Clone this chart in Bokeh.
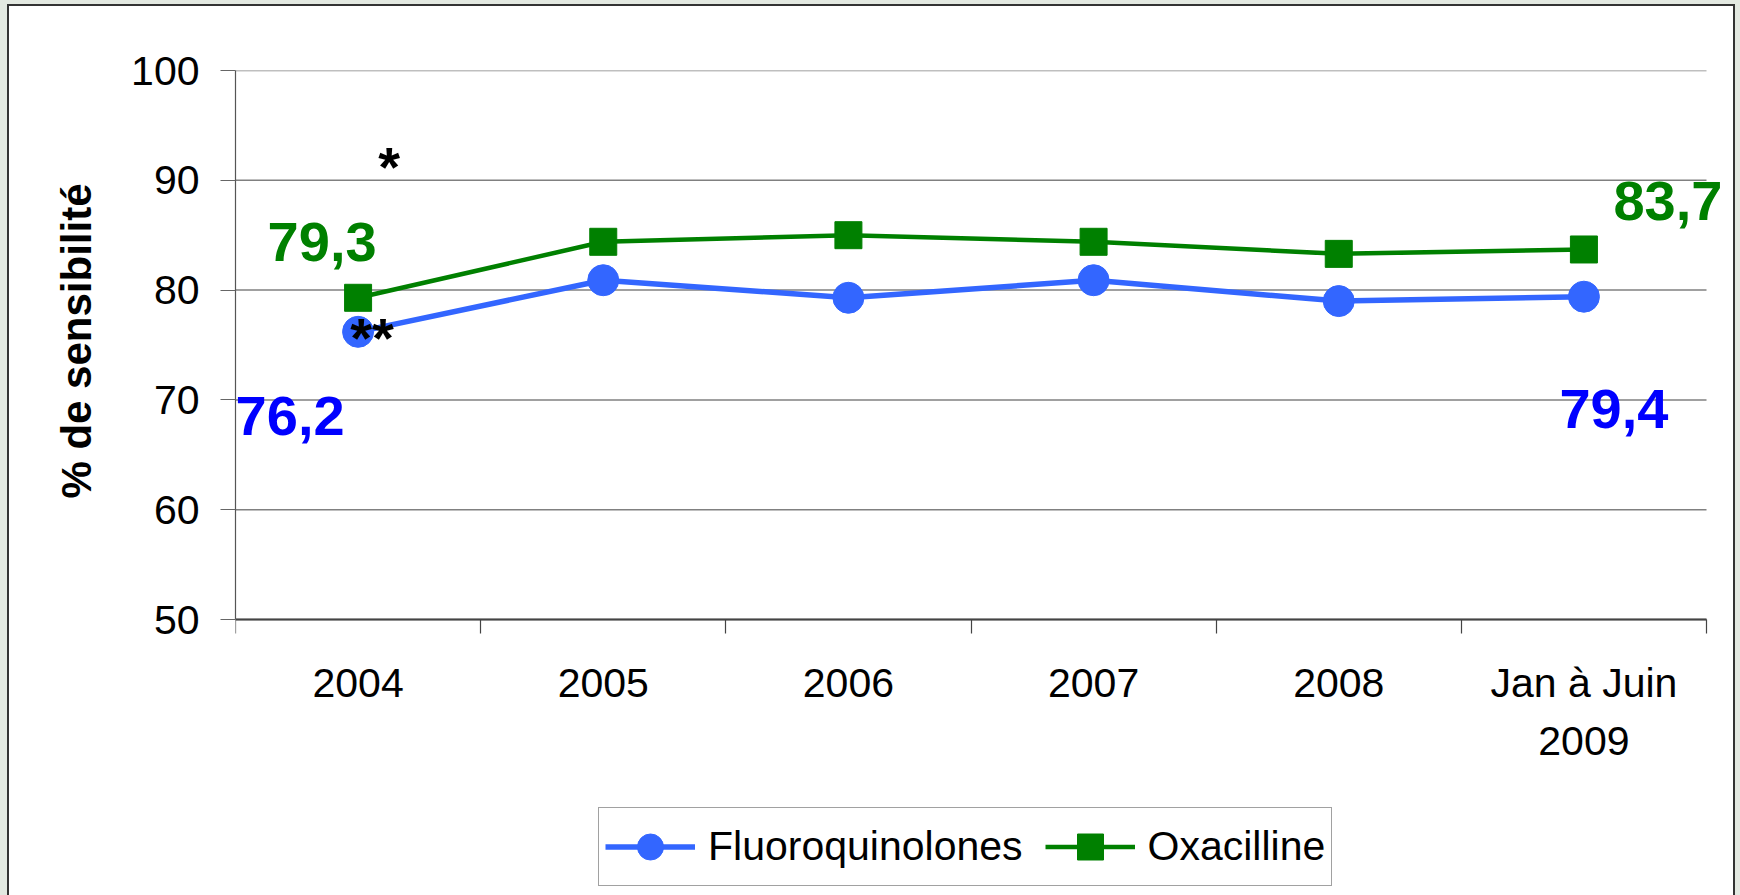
from bokeh.plotting import figure
from bokeh.models import Range1d, FixedTicker, Legend, LegendItem, ColumnDataSource, Title
from bokeh.core.properties import value
from bokeh.embed import file_html
from bokeh.resources import INLINE

# ---- data ----
categories = ["2004", "2005", "2006", "2007", "2008", "Jan à Juin\n2009"]
fluoroquinolones = [76.2, 80.9, 79.3, 80.9, 79.0, 79.4]
oxacilline = [79.3, 84.4, 85.0, 84.4, 83.3, 83.7]
y_ticks = [50, 60, 70, 80, 90, 100]
y_label = "% de sensibilité"
series_names = ["Fluoroquinolones", "Oxacilline"]

# value labels: (series, category index)
label_series = ["oxa", "fluoro", "oxa", "fluoro"]
label_index = [0, 0, 5, 5]
# notes: (text, series, category index)
note_text = ["*", "**"]
note_series = ["oxa", "fluoro"]
note_index = [0, 0]

# ---- styles ----
FONT = "Liberation Sans"
BLUE = "#3366FF"
BLUE_TXT = "#0000FF"
GREEN = "#008000"
label_dx = [-36, -68, 84, 30]
label_dy = [-56, 84, -48, 112]
note_dx = [31, 14]
note_dy = [-131, 6]

series = {"oxa": oxacilline, "fluoro": fluoroquinolones}
n = len(categories)
xs = [i + 0.5 for i in range(n)]

W, H = 1740, 895
FL, FR, FT, FB = 235, 1730, 70, 890      # frame edges (px)
AXIS_BOTTOM = 619                          # pixel row of the lowest y tick
X_LAST = 1706                              # pixel column of the last category boundary
x_end = n * (FR - FL) / (X_LAST - FL)
px_per_unit = (AXIS_BOTTOM - FT) / (y_ticks[-1] - y_ticks[0])
y_start = y_ticks[0] - (FB - AXIS_BOTTOM) / px_per_unit

p = figure(width=W, height=H, output_backend="svg", toolbar_location=None,
           x_range=Range1d(0, x_end), y_range=Range1d(y_start, y_ticks[-1]),
           min_border_left=FL, min_border_right=W - FR, min_border_top=FT,
           min_border_bottom=H - FB)
p.styles = {"background": (
    "linear-gradient(#333,#333) 7px 4px/1728px 2px no-repeat,"
    "linear-gradient(#333,#333) 7px 4px/2px 900px no-repeat,"
    "linear-gradient(#333,#333) 1733px 4px/2px 900px no-repeat,"
    "linear-gradient(#fff,#fff) 7px 4px/1728px 900px no-repeat,"
    "#e3e9e1")}
p.outline_line_color = None
p.background_fill_color = "white"
p.border_fill_alpha = 0

# y axis
p.yaxis.ticker = FixedTicker(ticks=y_ticks)
p.yaxis.bounds = (y_ticks[0], y_ticks[-1])
p.yaxis.axis_line_color = "#555555"
p.yaxis.axis_line_width = 1.2
p.yaxis.major_tick_out = 15
p.yaxis.major_tick_in = 0
p.yaxis.major_tick_line_color = "#666666"
p.yaxis.major_tick_line_width = 1.2
p.yaxis.minor_tick_line_color = None
p.yaxis.major_label_text_font = FONT
p.yaxis.major_label_text_font_size = "41px"
p.yaxis.major_label_text_color = "black"
p.yaxis.major_label_standoff = 21

# y axis title, centred on the 50-100 span (not on the whole frame)
p.add_layout(Title(text=y_label, align="right", offset=113, vertical_align="bottom",
                   standoff=57, text_font=FONT, text_font_style="bold",
                   text_font_size="42px", text_color="black"), "left")

# x axis at y = 50: labels at centres, ticks at boundaries
p.xaxis.fixed_location = y_ticks[0]
p.xaxis.ticker = FixedTicker(ticks=xs, minor_ticks=list(range(n + 1)))
p.xaxis.bounds = (0, n)
p.xaxis.major_label_overrides = {x: c for x, c in zip(xs, categories)}
p.xaxis.major_tick_out = 0
p.xaxis.major_tick_in = 0
p.xaxis.minor_tick_out = 14
p.xaxis.minor_tick_in = 0
p.xaxis.minor_tick_line_color = "#444444"
p.xaxis.minor_tick_line_width = 1.2
p.xaxis.axis_line_color = "#444444"
p.xaxis.axis_line_width = 2
p.xaxis.major_label_text_font = FONT
p.xaxis.major_label_text_font_size = "41px"
p.xaxis.major_label_text_color = "black"
p.xaxis.major_label_text_line_height = 1.27
p.xaxis.major_label_standoff = 26

p.xgrid.visible = False
p.ygrid.visible = False
# horizontal gridlines, bounded by the first and last category boundaries
p.segment(x0=[0] * len(y_ticks), x1=[n] * len(y_ticks), y0=y_ticks, y1=y_ticks,
          line_color="#808080", line_width=1.5)

# series
l1 = p.line(xs, fluoroquinolones, line_width=5.5, line_color=BLUE)
s1 = p.scatter(xs, fluoroquinolones, marker="circle", size=31, fill_color=BLUE, line_color=BLUE)
l2 = p.line(xs, oxacilline, line_width=4.5, line_color=GREEN)
s2 = p.scatter(xs, oxacilline, marker="square", size=27, fill_color=GREEN, line_color=GREEN)

# value labels
lab_src = ColumnDataSource(dict(
    x=[xs[i] for i in label_index],
    y=[series[s][i] for s, i in zip(label_series, label_index)],
    text=[f"{series[s][i]:.1f}".replace(".", ",") for s, i in zip(label_series, label_index)],
    color=[GREEN if s == "oxa" else BLUE_TXT for s in label_series],
    dx=label_dx, dy=label_dy))
p.text(x="x", y="y", text="text", source=lab_src, text_color="color",
       x_offset="dx", y_offset="dy", text_align="center", text_baseline="alphabetic",
       text_font=value(FONT), text_font_style="bold", text_font_size="56px")

note_src = ColumnDataSource(dict(
    x=[xs[i] for i in note_index],
    y=[series[s][i] for s, i in zip(note_series, note_index)],
    text=note_text, dx=note_dx, dy=note_dy))
p.text(x="x", y="y", text="text", source=note_src, text_color="black",
       x_offset="dx", y_offset="dy", text_align="center", text_baseline="alphabetic",
       text_font=value(FONT), text_font_style="bold", text_font_size="56px")

legend = Legend(items=[LegendItem(label=series_names[0], renderers=[l1, s1]),
                       LegendItem(label=series_names[1], renderers=[l2, s2])],
                orientation="horizontal", location=(363, FB - 886), margin=0,
                glyph_width=90, glyph_height=65, padding=6, spacing=22, label_standoff=13,
                label_text_font=FONT, label_text_font_size="41px", label_text_color="black",
                border_line_color="#444444", border_line_width=1.5,
                background_fill_color="white", background_fill_alpha=1.0)
p.add_layout(legend)

open("out.html", "w").write(file_html(p, INLINE))
